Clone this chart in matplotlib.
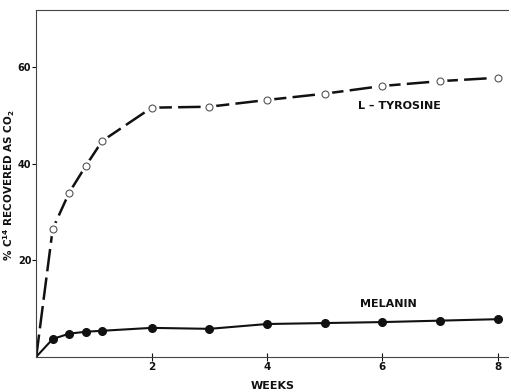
import matplotlib
matplotlib.use("Agg")
import matplotlib.pyplot as plt

# weeks after injection
weeks = [0, 0.286, 0.571, 0.857, 1.143, 2, 3, 4, 5, 6, 7, 8]
tyrosine = [0, 26.5, 34.0, 39.5, 44.7, 51.6, 51.8, 53.2, 54.5, 56.1, 57.1, 57.8]
melanin = [0, 3.7, 4.8, 5.2, 5.4, 6.0, 5.8, 6.8, 7.0, 7.2, 7.5, 7.8]

xticks = [2, 4, 6, 8]
yticks = [20, 40, 60]

plt.rcParams.update({'font.family': 'DejaVu Sans', 'font.weight': 'bold',
                     'mathtext.default': 'bf'})

fig = plt.figure(figsize=(5.1, 3.9), dpi=100)
ax = fig.add_axes([0.071, 0.085, 0.929, 0.889])

ink = '#111111'
# L-tyrosine: dashed curve, open circles with a small gap
ax.plot(weeks, tyrosine, color=ink, lw=1.8, dashes=(9, 2.5), zorder=2)
ax.plot(weeks[1:], tyrosine[1:], ls='none', marker='o', ms=9,
        mfc='white', mec='white', zorder=3)
ax.plot(weeks[1:], tyrosine[1:], ls='none', marker='o', ms=5,
        mfc='white', mec='#555555', mew=0.8, zorder=4)

# melanin: solid curve, filled circles
ax.plot(weeks, melanin, color=ink, lw=1.5, zorder=2)
ax.plot(weeks[1:], melanin[1:], ls='none', marker='o', ms=5.5,
        color=ink, zorder=4)

ax.text(6.3, 52.0, 'L \u2013 TYROSINE', fontsize=8, fontweight='bold',
        ha='center', va='center', color=ink)
ax.text(6.1, 11.0, 'MELANIN', fontsize=8, fontweight='bold',
        ha='center', va='center', color=ink)

ax.set_xlim(0, 8.21)
ax.set_ylim(0, 71.8)
ax.set_xticks(xticks)
ax.set_yticks(yticks)
ax.tick_params(axis='x', direction='inout', length=6, width=0.8,
               labelsize=7.5, pad=1, colors=ink)
ax.tick_params(axis='y', direction='out', length=3, width=0.8,
               labelsize=7, pad=0.5, colors=ink)

for side in ['left', 'top', 'bottom']:
    ax.spines[side].set_color('#444444')
    ax.spines[side].set_linewidth(0.8)
ax.spines['right'].set_visible(False)

ax.set_xlabel('WEEKS', fontsize=8, fontweight='bold', labelpad=6, color=ink)
fig.text(9 / 510, 0.525, '% C$^{14}$ RECOVERED AS CO$_{2}$', fontsize=7.5,
         fontweight='bold', rotation=90, ha='center', va='center', color=ink)

fig.savefig('out.png', dpi=100)
